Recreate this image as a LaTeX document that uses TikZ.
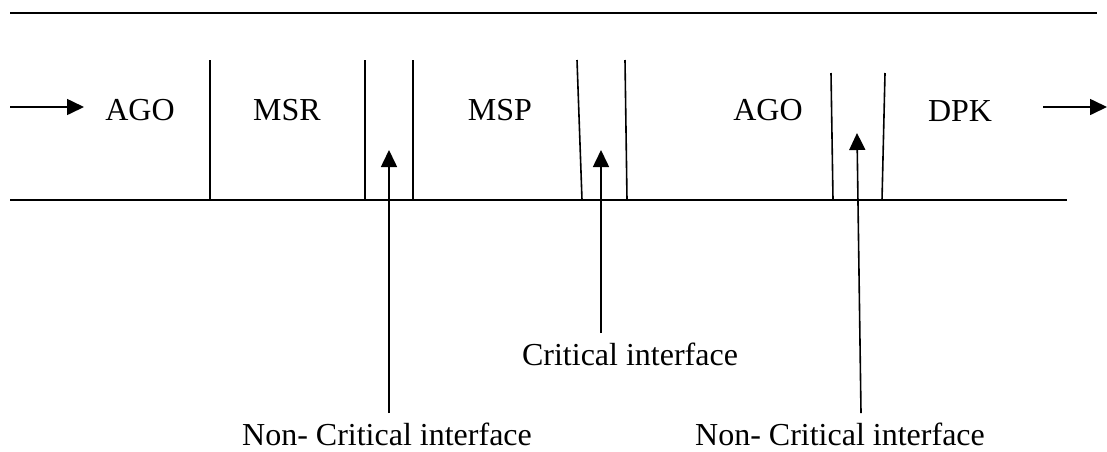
\documentclass[tikz,border=0pt]{standalone}
\usepackage{fontspec}
\setmainfont{Liberation Serif}
\usetikzlibrary{arrows.meta}
\begin{document}
\begin{tikzpicture}[x=1pt,y=-1pt,
  rule/.style={line width=1.9pt},
  sep/.style={line width=1.6pt},
  pointer/.style={line width=1.6pt,-{Triangle[length=17pt,width=16pt]}},
  label/.style={font=\fontsize{32}{36}\selectfont,inner sep=0pt},
  caption/.style={font=\fontsize{32}{36}\selectfont,inner sep=0pt}]
  \useasboundingbox (0,0) rectangle (1107,451);
  % channel borders
  \coordinate (tl) at (10,13);   \coordinate (tr) at (1097,13);
  \coordinate (bl) at (10,200);  \coordinate (br) at (1067,200);
  \draw[rule] (tl) -- (tr);
  \draw[rule] (bl) -- (br);
  % flow in and out
  \coordinate (in0) at (10,107);  \coordinate (in1) at (84,107);
  \coordinate (out0) at (1043,107); \coordinate (out1) at (1107,107);
  \draw[pointer] (in0) -- (in1);
  \draw[pointer] (out0) -- (out1);
  % segment labels
  \node[label] (ago1) at (140,110) {AGO};
  \node[label] (msr)  at (287,110) {MSR};
  \node[label] (msp)  at (500,110) {MSP};
  \node[label] (ago2) at (768,110) {AGO};
  \node[label] (dpk)  at (960,111) {DPK};
  % segment separators
  \coordinate (s1a) at (210,60);  \coordinate (s1b) at (210,200);
  \coordinate (s2a) at (365,60);  \coordinate (s2b) at (365,200);
  \coordinate (s3a) at (413,60);  \coordinate (s3b) at (413,200);
  \coordinate (s4a) at (577,60);  \coordinate (s4b) at (582,200);
  \coordinate (s5a) at (625,60);  \coordinate (s5b) at (627,200);
  \coordinate (s6a) at (831,73);  \coordinate (s6b) at (833,200);
  \coordinate (s7a) at (885,73);  \coordinate (s7b) at (882,200);
  \foreach \s in {1,...,7} \draw[sep] (s\s a) -- (s\s b);
  % interface captions
  \node[caption,anchor=north] (nc1) at (387,423) {Non- Critical interface};
  \node[caption,anchor=north] (crit) at (630,343) {Critical interface};
  \node[caption,anchor=north] (nc2) at (840,423) {Non- Critical interface};
  \coordinate (t1) at (389,150);
  \coordinate (t2) at (601,150);
  \coordinate (t3) at (857,133);
  \draw[pointer] (389,413) -- (t1);
  \draw[pointer] (601,333) -- (t2);
  \draw[pointer] (861,413) -- (t3);
\end{tikzpicture}
\end{document}
